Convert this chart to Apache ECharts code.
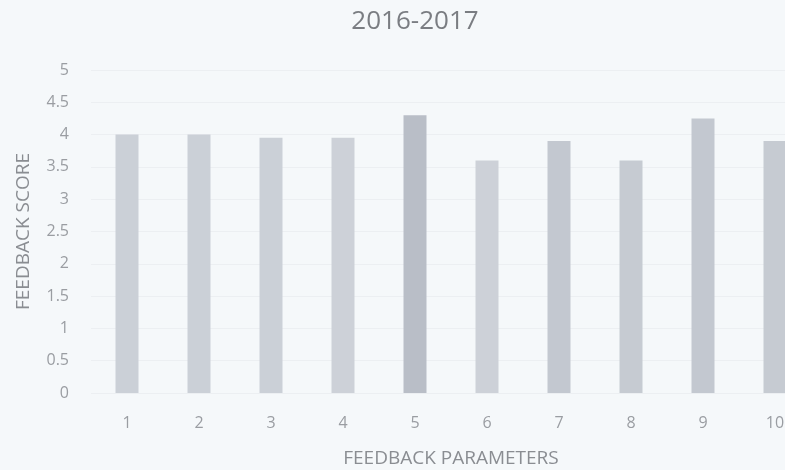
<!DOCTYPE html>
<html>
<head>
<meta charset="utf-8">
<script src="https://cdn.jsdelivr.net/npm/echarts@6/dist/echarts.min.js"></script>
<style>
html,body{margin:0;padding:0;background:#f5f8fa;overflow:hidden;width:785px;height:470px;}
#c{width:811px;height:470px;}
</style>
</head>
<body>
<div id="c"></div>
<script>
const categories = ['1','2','3','4','5','6','7','8','9','10'];
const scores = [4.0, 4.0, 3.95, 3.95, 4.3, 3.6, 3.9, 3.6, 4.25, 3.9];
const titleText = '2016-2017';
const xName = 'FEEDBACK PARAMETERS';
const yName = 'FEEDBACK SCORE';

const barColors = ['#cbd0d7','#cbd0d7','#cbd0d7','#cdd1d8','#b9bec7','#cdd1d8','#c3c8d0','#c6cbd2','#c3c8d0','#c6cbd2'];

const chart = echarts.init(document.getElementById('c'));
chart.setOption({
  backgroundColor: '#f5f8fa',
  animation: false,
  title: [
    { text: titleText, left: 410, top: 4, textAlign: 'center',
      textStyle: { fontSize: 26, fontWeight: 'normal', color: '#7a7d82', fontFamily: '"Open Sans", sans-serif' } },
    { text: xName, left: 446, top: 444, textAlign: 'center',
      textStyle: { fontSize: 19, fontWeight: 'normal', color: '#8a8d92', fontFamily: '"Open Sans", sans-serif' } }
  ],
  grid: { left: 91, top: 70, right: 0, bottom: 77, containLabel: false },
  xAxis: {
    type: 'category',
    data: categories,
    axisLine: { show: false },
    axisTick: { show: false },
    axisLabel: { color: '#9a9da2', fontSize: 16, margin: 22, fontFamily: '"Open Sans", sans-serif' }
  },
  yAxis: {
    type: 'value',
    min: 0, max: 5, interval: 0.5,
    name: yName,
    nameLocation: 'middle',
    nameGap: 58,
    nameTextStyle: { color: '#8a8d92', fontSize: 19, fontFamily: '"Open Sans", sans-serif' },
    axisLine: { show: false },
    axisTick: { show: false },
    axisLabel: { color: '#9a9da2', fontSize: 16, margin: 22, fontFamily: '"Open Sans", sans-serif' },
    splitLine: { lineStyle: { color: '#eceff2', width: 1 } }
  },
  series: [{
    type: 'bar',
    data: scores.map((v, i) => ({ value: v, itemStyle: { color: barColors[i] } })),
    barWidth: 23
  }]
});
</script>
</body>
</html>
